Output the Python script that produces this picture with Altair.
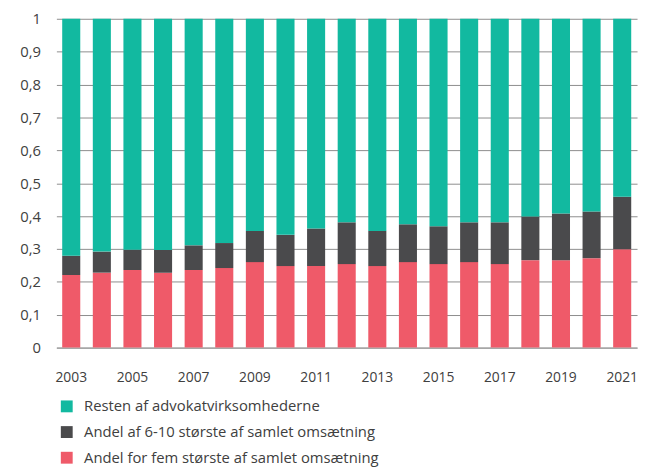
import altair as alt
import pandas as pd

years = [str(y) for y in range(2003, 2022)]
series = ["Resten af advokatvirksomhederne",
          "Andel af 6-10 største af samlet omsætning",
          "Andel for fem største  af samlet omsætning"]
colors = ["#12B9A0", "#4A4A4C", "#EF5A69"]

top5 = [0.221, 0.228, 0.236, 0.228, 0.236, 0.242, 0.260, 0.248, 0.248, 0.254,
        0.248, 0.260, 0.254, 0.260, 0.254, 0.266, 0.266, 0.272, 0.299]
top6_10 = [0.058, 0.064, 0.062, 0.069, 0.075, 0.076, 0.095, 0.095, 0.114, 0.127,
           0.107, 0.115, 0.115, 0.121, 0.127, 0.133, 0.142, 0.142, 0.160]
rest = [0.721, 0.708, 0.702, 0.703, 0.689, 0.682, 0.645, 0.657, 0.638, 0.619,
        0.645, 0.625, 0.631, 0.619, 0.619, 0.601, 0.592, 0.586, 0.541]

rows = []
for i, y in enumerate(years):
    rows.append({"year": y, "serie": series[2], "value": top5[i], "ord": 0})
    rows.append({"year": y, "serie": series[1], "value": top6_10[i], "ord": 1})
    rows.append({"year": y, "serie": series[0], "value": rest[i], "ord": 2})
df = pd.DataFrame(rows)

FONT = "Open Sans"
TXT = "#404040"

chart = alt.Chart(df).mark_bar().encode(
    x=alt.X("year:O", title=None, sort=years,
            scale=alt.Scale(paddingInner=0.41, paddingOuter=0.19),
            axis=alt.Axis(labelAngle=0, ticks=False, labelPadding=23,
                          labelExpr="(toNumber(datum.value) - 2003) % 2 == 0 ? datum.value : ''",
                          domainColor="#9a9a9a", labelFontSize=14, labelColor=TXT,
                          labelFont=FONT)),
    y=alt.Y("value:Q", title=None, stack="zero",
            scale=alt.Scale(domain=[0, 1], nice=False),
            axis=alt.Axis(values=[0, 0.1, 0.2, 0.3, 0.4, 0.5, 0.6, 0.7, 0.8, 0.9, 1],
                          labelExpr="datum.value == 0 ? '0' : datum.value == 1 ? '1' : replace(format(datum.value, '.1f'), '.', ',')",
                          ticks=False, domain=False, labelPadding=16,
                          gridColor="#8c8c8c", gridWidth=1,
                          labelFontSize=15, labelColor=TXT, labelFont=FONT)),
    color=alt.Color("serie:N", scale=alt.Scale(domain=series, range=colors),
                    legend=alt.Legend(title=None, orient="none", legendX=3, legendY=385,
                                      direction="vertical", symbolType="square",
                                      symbolSize=144, symbolStrokeWidth=0,
                                      labelFontSize=15, labelColor=TXT, labelFont=FONT,
                                      labelOffset=10, rowPadding=10, labelLimit=500)),
    order=alt.Order("ord:Q", sort="ascending"),
).properties(
    width=588, height=333,
    autosize=alt.AutoSizeParams(type="none"),
    padding={"left": 49, "top": 8, "right": 3, "bottom": 120},
).configure_view(stroke=None).configure_axis(grid=True).configure_axisX(grid=False)

chart.save("out.html", embed_options={"renderer": "svg", "actions": False})
